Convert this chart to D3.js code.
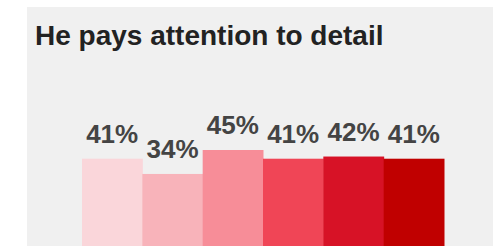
<!DOCTYPE html>
<html>
<head>
<meta charset="utf-8">
<script src="https://cdn.jsdelivr.net/npm/d3@7"></script>
<style>
  body { margin: 0; background: #ffffff; }
  text { font-family: "Liberation Sans", Arial, sans-serif; font-weight: bold; }
</style>
</head>
<body>
<div id="chart"></div>
<script>

// chart data

var categories = ["g1", "g2", "g3", "g4", "g5", "g6"];
var values = [41, 34, 45, 41, 42, 41];
var labels = ["41%", "34%", "45%", "41%", "42%", "41%"];
var colors = ["#fad6da", "#f8b3ba", "#f78d98", "#f04556", "#d71226", "#c00000"];

var svgWidth = 493;
var svgHeight = 246;

var svg = d3.select("#chart")
	.append("svg")
	.attr("width", svgWidth)
	.attr("height", svgHeight);

// grey panel behind the chart

svg.append("rect")
	.attr("x", 27)
	.attr("y", 7)
	.attr("width", svgWidth - 27)
	.attr("height", svgHeight - 7)
	.attr("fill", "#f0f0f0");

svg.append("text")
	.attr("x", 35)
	.attr("y", 45)
	.attr("fill", "#222222")
	.style("font-size", "28px")
	.text("He pays attention to detail");

// scales

var xScale = d3.scaleBand()
	.domain(categories)
	.range([82, 444])
	.padding(0);

var yScale = d3.scaleLinear()
	.domain([0, 45])
	.range([248, 150]);

var data = categories.map((c, i) => ({cat: c, value: values[i], label: labels[i], color: colors[i]}));

svg.selectAll(".bar")
	.data(data)
	.enter()
	.append("rect")
	.attr("class", "bar")
	.attr("x", d => xScale(d.cat))
	.attr("y", d => yScale(d.value))
	.attr("width", xScale.bandwidth() + 0.5)
	.attr("height", d => yScale(0) - yScale(d.value))
	.attr("fill", d => d.color);

svg.selectAll(".label")
	.data(data)
	.enter()
	.append("text")
	.attr("class", "label")
	.attr("x", d => xScale(d.cat) + xScale.bandwidth() / 2)
	.attr("y", d => yScale(d.value) - 16)
	.attr("text-anchor", "middle")
	.attr("fill", "#444444")
	.style("font-size", "26px")
	.text(d => d.label);

</script>
</body>
</html>
